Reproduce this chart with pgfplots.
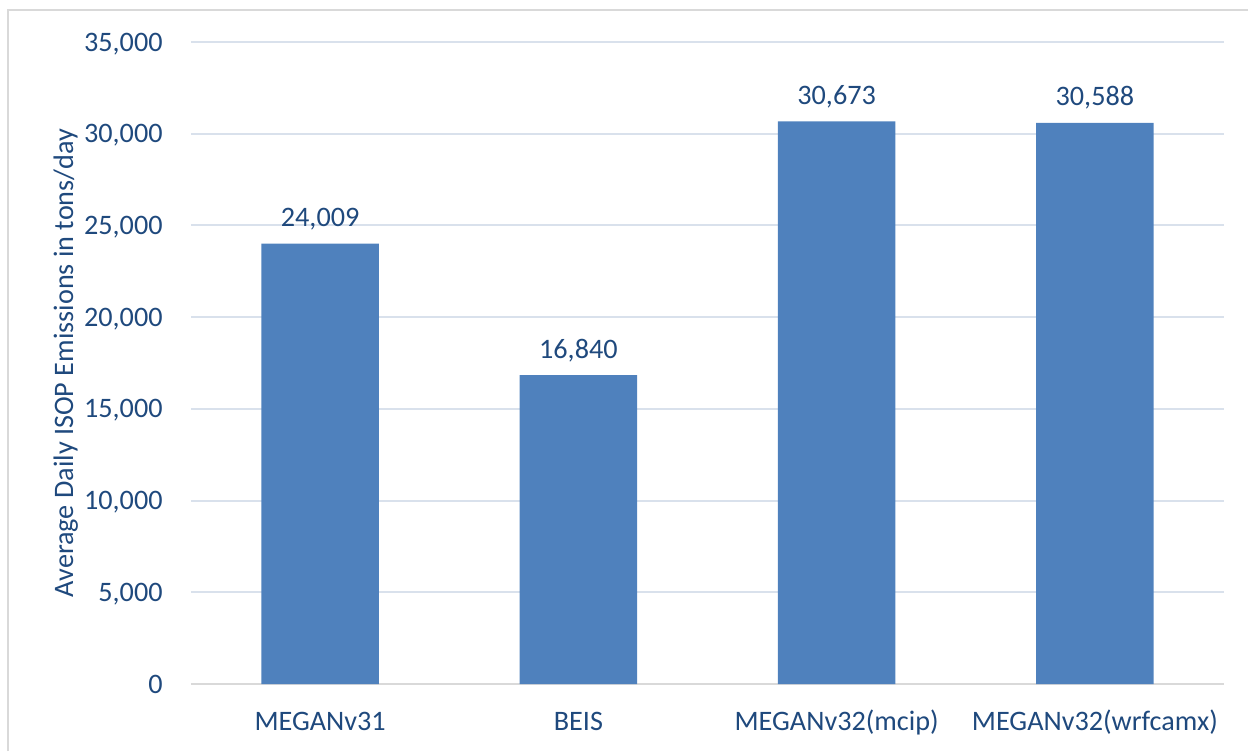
\documentclass[border=0pt]{standalone}
\usepackage{fontspec}
\setmainfont{Carlito}
\usepackage{pgfplots}
\pgfplotsset{compat=1.18}

\definecolor{barblue}{RGB}{79,129,189}
\definecolor{txtblue}{RGB}{31,73,125}
\definecolor{gridc}{RGB}{217,225,236}
\definecolor{axisc}{RGB}{217,217,217}
\definecolor{framec}{RGB}{217,217,217}

\newcommand{\lblfont}{\fontsize{14.1}{16}\selectfont}

\begin{document}
\begin{tikzpicture}
\useasboundingbox (0,0) rectangle (624pt,375.5pt);
% outer chart frame
\draw[framec, line width=0.8pt] (4pt,0) -- (4pt,370.5pt) -- (624pt,370.5pt);
\begin{axis}[
  at={(95.5pt,33.5pt)}, anchor=south west,
  scale only axis, width=516.5pt, height=321pt,
  xmin=-0.5, xmax=3.5, ymin=0, ymax=35000,
  ytick={0,5000,...,35000},
  xtick={0,1,2,3},
  xticklabels={MEGANv31,BEIS,MEGANv32(mcip),MEGANv32(wrfcamx)},
  scaled y ticks=false,
  /pgf/number format/.cd, 1000 sep={,}, assume math mode=true, /pgfplots/.cd,
  axis x line*=bottom,
  axis y line*=left,
  x axis line style={axisc, line width=1pt},
  y axis line style={draw=none},
  major tick length=0pt,
  ymajorgrids,
  major grid style={gridc, line width=1pt},
  ticklabel style={font=\lblfont, text=txtblue, inner sep=0pt},
  yticklabel style={anchor=base east, xshift=-14pt, yshift=-4.5pt},
  xticklabel style={anchor=base, yshift=-23pt},
  ybar, bar width=58.75pt,
  nodes near coords,
  every node near coord/.append style={font=\lblfont, text=txtblue, anchor=base, inner sep=0pt, yshift=8.5pt},
]
\addplot[fill=barblue, draw=none] coordinates {(0,24009) (1,16840) (2,30673) (3,30588)};
\end{axis}
\node[rotate=90, anchor=base, text=txtblue, font=\lblfont, inner sep=0pt] at (36.5pt,194pt) {Average Daily ISOP Emissions in tons/day};
\end{tikzpicture}
\end{document}
